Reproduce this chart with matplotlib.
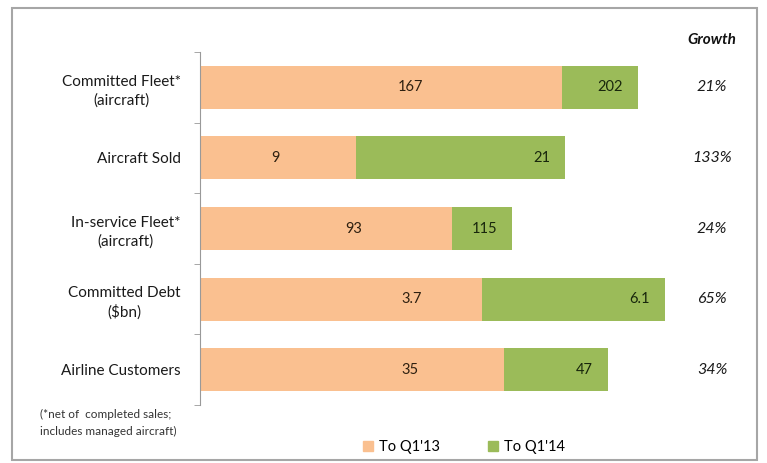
import matplotlib.pyplot as plt
from matplotlib.patches import Rectangle

# data
categories = ['Committed Fleet*\n(aircraft)', 'Aircraft Sold', 'In-service Fleet*\n(aircraft)',
              'Committed Debt\n($bn)', 'Airline Customers']
q1_13 = [167, 9, 93, 3.7, 35]
q1_14 = [202, 21, 115, 6.1, 47]
q1_13_labels = ['167', '9', '93', '3.7', '35']
q1_14_labels = ['202', '21', '115', '6.1', '47']
growth = ['21%', '133%', '24%', '65%', '34%']

# each row is drawn on its own scale: length of the Q1'14 bar (axis fraction)
row_extent = [0.876, 0.73, 0.624, 0.93, 0.816]
# where the Q1'13 label sits, as fraction of the orange bar
q13_label_pos = [0.58, 0.48, 0.61, 0.75, 0.69]

orange = '#FAC090'
green = '#9BBB59'

plt.rcParams['font.family'] = ['Lato', 'DejaVu Sans']

fig = plt.figure(figsize=(7.67, 4.63), dpi=100)
ax = fig.add_axes([200 / 767, 58 / 463, 500 / 767, 353 / 463])

y = list(range(len(categories)))
for i in y:
    full = row_extent[i]
    part = q1_13[i] / q1_14[i] * full
    ax.barh(i, full, height=0.61, color=green, left=0)
    ax.barh(i, part, height=0.61, color=orange, left=0)
    ax.text(part * q13_label_pos[i], i, q1_13_labels[i], ha='center', va='center',
            fontsize=10.5, color='#2e2010')
    ax.text(full - 0.03, i, q1_14_labels[i], ha='right', va='center',
            fontsize=10.5, color='#18260c')
    ax.text(1.024, i, growth[i], ha='center', va='center', fontsize=11.5,
            style='italic', color='#1a1a1a', transform=ax.get_yaxis_transform())

ax.text(1.024, 1.035, 'Growth', ha='center', va='center', fontsize=11,
        style='italic', fontweight='bold', color='#111111', transform=ax.transAxes)

ax.set_xlim(0, 1)
ax.set_ylim(len(categories) - 0.5, -0.5)
ax.set_xticks([])
ax.set_yticks(y)
ax.set_yticklabels(categories, fontsize=11, color='#1a1a1a', linespacing=1.4)
for lab in ax.get_yticklabels():
    lab.set_multialignment('center')
ax.tick_params(axis='y', which='major', length=0, pad=14)
ax.set_yticks([v - 0.5 for v in range(len(categories) + 1)], minor=True)
ax.tick_params(axis='y', which='minor', length=4, color='#999999', direction='out')

for s in ['top', 'right', 'bottom']:
    ax.spines[s].set_visible(False)
ax.spines['left'].set_color('#999999')

# outer frame
fig.patches.append(Rectangle((12 / 767, 3 / 463), 745 / 767, 452 / 463, transform=fig.transFigure,
                             fill=False, edgecolor='#a6a6a6', linewidth=1.5))

fig.text(40 / 767, 1 - 423 / 463, '(*net of  completed sales;\nincludes managed aircraft)',
         fontsize=8.5, color='#333333', va='center', ha='left', linespacing=1.6)

handles = [Rectangle((0, 0), 1, 1, color=orange), Rectangle((0, 0), 1, 1, color=green)]
fig.legend(handles, ["To Q1'13", "To Q1'14"], loc='center', bbox_to_anchor=(0.605, 1 - 447 / 463),
           ncol=2, frameon=False, fontsize=10.5, handlelength=0.7, handleheight=0.7,
           handletextpad=0.4, columnspacing=3.3)

fig.savefig('out.png', dpi=100)
